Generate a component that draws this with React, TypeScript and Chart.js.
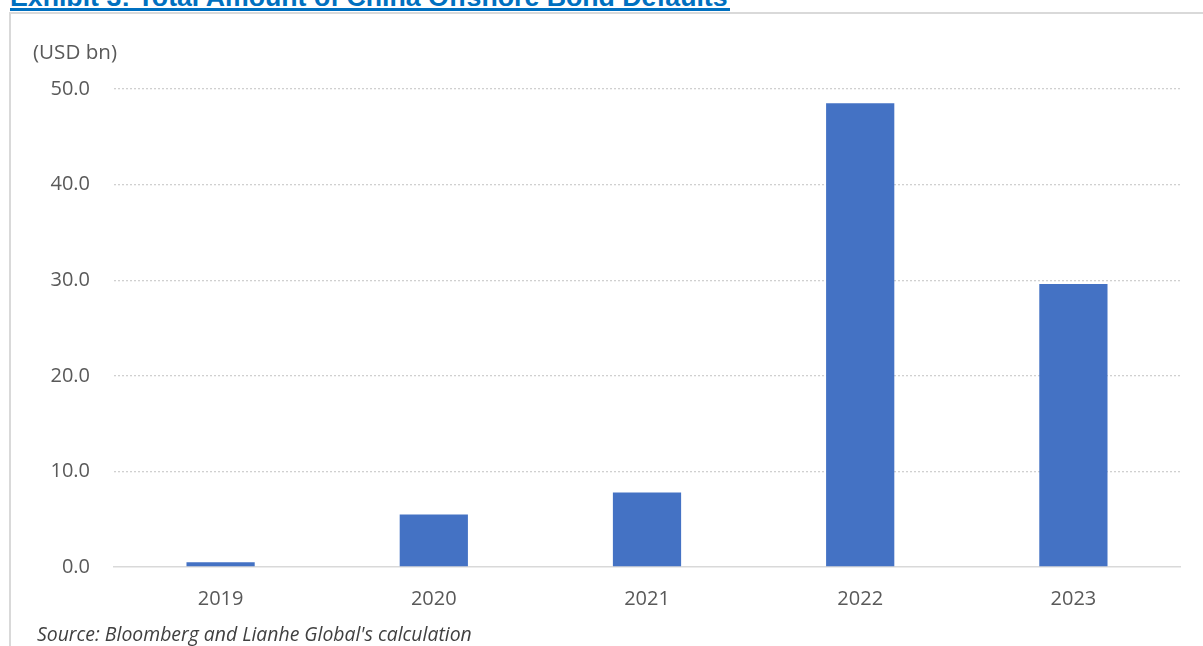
import React, { useEffect, useRef } from "react";
import { Chart, registerables } from "chart.js";

Chart.register(...registerables);

const categories: string[] = ["2019", "2020", "2021", "2022", "2023"];
const defaults: number[] = [0.5, 5.5, 7.8, 48.5, 29.6];
const yTicks: number[] = [0, 10, 20, 30, 40, 50];

const W = 1203;
const H = 646;

export default function App() {
  const ref = useRef<HTMLCanvasElement | null>(null);

  useEffect(() => {
    document.body.style.margin = "0";
    const ctx = ref.current;
    if (!ctx) return;
    const chart = new Chart(ctx, {
      type: "bar",
      data: {
        labels: categories,
        datasets: [
          {
            data: defaults,
            backgroundColor: "#4472C4",
            borderWidth: 0,
            barPercentage: 0.32,
            categoryPercentage: 1,
          },
        ],
      },
      options: {
        responsive: false,
        animation: false,
        plugins: { legend: { display: false }, tooltip: { enabled: false } },
        layout: { padding: { left: 0, top: 89, right: 23, bottom: 0 } },
        scales: {
          x: {
            grid: { display: false, drawTicks: false },
            border: { display: true, color: "#d9d9d9", width: 1.5 },
            ticks: {
              color: "#595959",
              font: { family: "'Open Sans'", size: 20 },
              padding: 20,
            },
            afterFit: (s: any) => {
              s.height = 79;
            },
          },
          y: {
            min: 0,
            max: 50,
            afterBuildTicks: (s: any) => {
              s.ticks = yTicks.map((v) => ({ value: v }));
            },
            grid: {
              color: (c: any) => (c.tick && c.tick.value === 0 ? "rgba(0,0,0,0)" : "#d0d0d0"),
              lineWidth: 1.3,
              drawTicks: false,
            },
            border: { display: false, dash: [2, 2] },
            ticks: {
              color: "#595959",
              font: { family: "'Open Sans'", size: 20 },
              padding: 24,
              callback: (v: any) => Number(v).toFixed(1),
            },
            afterFit: (s: any) => {
              s.width = 114;
            },
          },
        },
      },
    });
    return () => chart.destroy();
  }, []);

  return (
    <div style={{ position: "relative", width: W, height: H, overflow: "hidden", background: "#fff" }}>
      <div
        style={{
          position: "absolute",
          left: 10,
          top: -15.6,
          fontFamily: "'Liberation Sans', Arial, sans-serif",
          fontWeight: "bold",
          fontSize: 26.7,
          lineHeight: "26.7px",
          color: "#0070C0",
          whiteSpace: "nowrap",
        }}
      >
        Exhibit 3: Total Amount of China Offshore Bond Defaults
      </div>
      <div style={{ position: "absolute", left: 10, top: 8, width: 720, height: 3, background: "#0070C0" }} />
      <div style={{ position: "absolute", left: 9, top: 12, width: W - 9, height: 1.5, background: "#d9d9d9" }} />
      <div style={{ position: "absolute", left: 9, top: 12, width: 1.5, height: H - 12, background: "#d9d9d9" }} />
      <canvas ref={ref} width={W} height={H} style={{ position: "absolute", left: 0, top: 0, width: W, height: H }} />
      <div
        style={{
          position: "absolute",
          left: 33,
          top: 37,
          fontFamily: "'Open Sans'",
          fontSize: 20.6,
          lineHeight: "28px",
          color: "#595959",
          whiteSpace: "nowrap",
        }}
      >
        (USD bn)
      </div>
      <div
        style={{
          position: "absolute",
          left: 37,
          top: 621,
          fontFamily: "'Open Sans'",
          fontStyle: "italic",
          fontSize: 19.4,
          lineHeight: "26px",
          color: "#404040",
          whiteSpace: "nowrap",
        }}
      >
        Source: Bloomberg and Lianhe Global's calculation
      </div>
    </div>
  );
}
